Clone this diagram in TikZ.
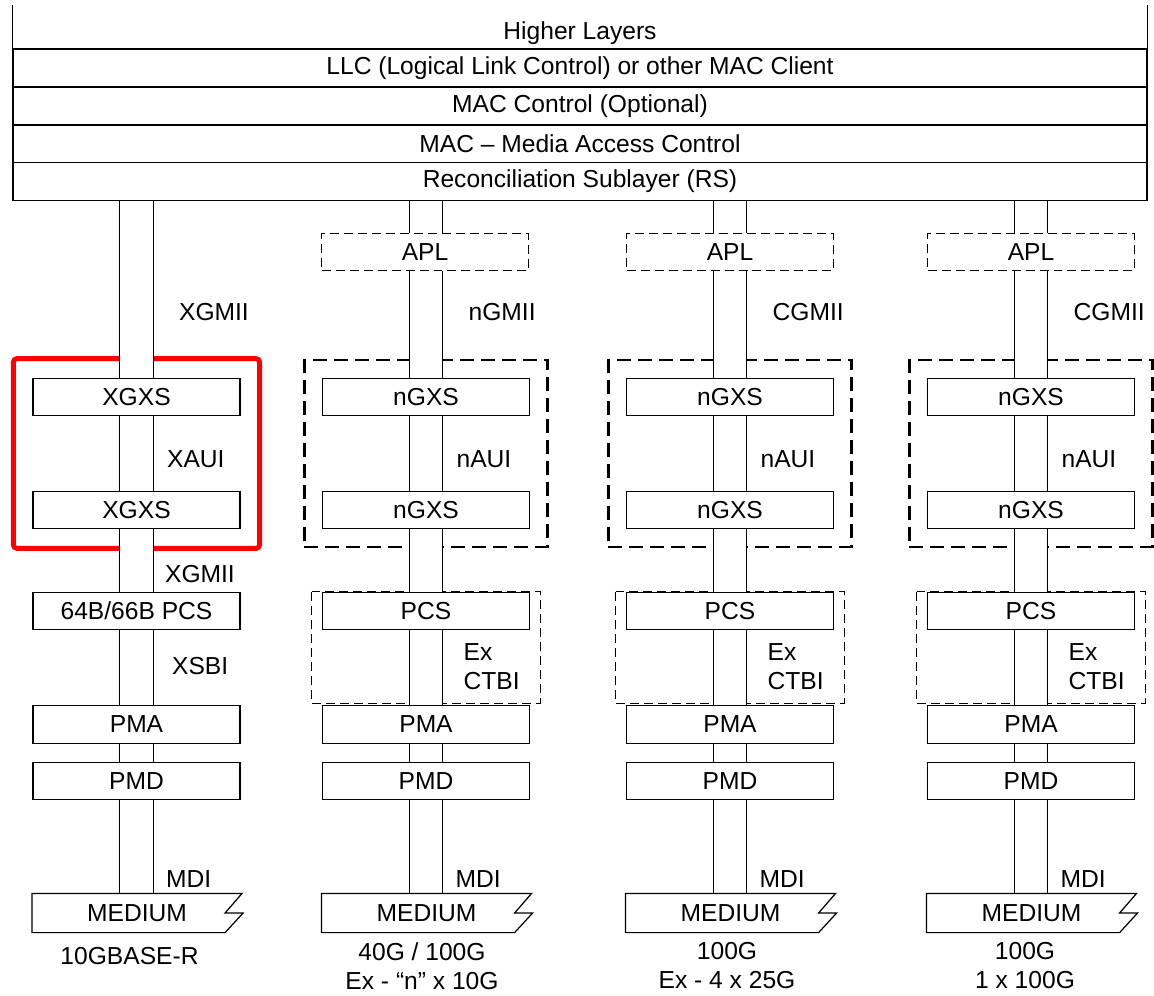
\documentclass[tikz,border=0pt]{standalone}
\usepackage{fontspec}
\setmainfont{Liberation Sans}
\usetikzlibrary{calc,fit,backgrounds}

\begin{document}
\begin{tikzpicture}[x=0.02cm, y=-0.02cm, line width=0.7pt, font=\fontsize{14}{16.8}\selectfont,
    layer/.style={draw, rectangle, fill=white, minimum width=22.68cm, minimum height=0.76cm, inner sep=0pt},
    sublayer/.style={draw, rectangle, fill=white, minimum width=4.14cm, minimum height=0.75cm, inner sep=0pt},
    apl/.style={sublayer, dash pattern=on 0.18cm off 0.1cm, line width=0.6pt},
    medium/.style={rectangle, minimum width=4.18cm, minimum height=0.76cm, inner sep=0pt},
    iface/.style={anchor=west, inner sep=0pt, align=left, font=\fontsize{14}{16.5}\selectfont},
    caption/.style={align=center, inner sep=0pt, font=\fontsize{14}{16.5}\selectfont},
    shaft/.style={double, double distance=0.655cm},
    xgroup/.style={draw, dash pattern=on 0.28cm off 0.14cm, line width=1.4pt, inner sep=0.35cm},
    subgroup/.style={draw, dash pattern=on 0.18cm off 0.1cm, line width=0.6pt}]
    \useasboundingbox (0, 0) rectangle (1154, 995);
    % Upper layers (shared)
    \node[inner sep=0pt] (hl) at (580, 33) {Higher Layers};
    \node[layer] (llc) at (580, 68) {LLC (Logical Link Control) or other MAC Client};
    \node[layer] (macc) at (580, 106) {MAC Control (Optional)};
    \node[layer] (mac) at (580, 144) {MAC – Media Access Control};
    \node[layer] (rs) at (580, 181.5) {Reconciliation Sublayer (RS)};
    \draw (llc.north west) -- ++(0, -43);
    \draw (llc.north east) -- ++(0, -43);
    % Column 1: 10GBASE-R
    \node[sublayer] (xgxs_c1a) at (136.5, 397) {XGXS};
    \node[sublayer] (xgxs_c1b) at (136.5, 510) {XGXS};
    \node[sublayer] (pcs_c1) at (136.5, 611) {64B/66B PCS};
    \node[sublayer] (pma_c1) at (136.5, 724.5) {PMA};
    \node[sublayer] (pmd_c1) at (136.5, 781) {PMD};
    \node[medium] (med_c1) at (137, 913) {MEDIUM};
    \node[iface] (gmii_c1) at (178.5, 312) {XGMII};
    \node[iface] (aui_c1) at (166.5, 459) {XAUI};
    \node[iface] (xgmii_c1) at (164.5, 574) {XGMII};
    \node[iface] (xsbi_c1) at (171.5, 666) {XSBI};
    \node[iface] (mdi_c1) at (165.5, 879) {MDI};
    \node[caption] (cap_c1) at (129.5, 956) {10GBASE-R};
    % Column 2: 40G / 100G, n x 10G
    \node[apl] (apl_c2) at (425, 252) {APL};
    \node[sublayer] (gxs_c2a) at (426, 397) {nGXS};
    \node[sublayer] (gxs_c2b) at (426, 510) {nGXS};
    \node[sublayer] (pcs_c2) at (426, 611) {PCS};
    \node[sublayer] (pma_c2) at (426, 724.5) {PMA};
    \node[sublayer] (pmd_c2) at (426, 781) {PMD};
    \node[medium] (med_c2) at (426.5, 913) {MEDIUM};
    \node[iface] (gmii_c2) at (468, 312) {nGMII};
    \node[iface] (aui_c2) at (456, 459) {nAUI};
    \node[iface] (ctbi_c2) at (463, 666.5) {Ex\\CTBI};
    \node[iface] (mdi_c2) at (455, 879) {MDI};
    \node[caption] (cap_c2) at (422, 966) {40G / 100G\\Ex - “n” x 10G};
    % Column 3: 100G, 4 x 25G
    \node[apl] (apl_c3) at (730, 252) {APL};
    \node[sublayer] (gxs_c3a) at (730, 397) {nGXS};
    \node[sublayer] (gxs_c3b) at (730, 510) {nGXS};
    \node[sublayer] (pcs_c3) at (730, 611) {PCS};
    \node[sublayer] (pma_c3) at (730, 724.5) {PMA};
    \node[sublayer] (pmd_c3) at (730, 781) {PMD};
    \node[medium] (med_c3) at (730.5, 913) {MEDIUM};
    \node[iface] (gmii_c3) at (772, 312) {CGMII};
    \node[iface] (aui_c3) at (760, 459) {nAUI};
    \node[iface] (ctbi_c3) at (767, 666.5) {Ex\\CTBI};
    \node[iface] (mdi_c3) at (759, 879) {MDI};
    \node[caption] (cap_c3) at (727, 966) {100G\\Ex - 4 x 25G};
    % Column 4: 100G, 1 x 100G
    \node[apl] (apl_c4) at (1031, 252) {APL};
    \node[sublayer] (gxs_c4a) at (1031, 397) {nGXS};
    \node[sublayer] (gxs_c4b) at (1031, 510) {nGXS};
    \node[sublayer] (pcs_c4) at (1031, 611) {PCS};
    \node[sublayer] (pma_c4) at (1031, 724.5) {PMA};
    \node[sublayer] (pmd_c4) at (1031, 781) {PMD};
    \node[medium] (med_c4) at (1031.5, 913) {MEDIUM};
    \node[iface] (gmii_c4) at (1073, 312) {CGMII};
    \node[iface] (aui_c4) at (1061, 459) {nAUI};
    \node[iface] (ctbi_c4) at (1068, 666.5) {Ex\\CTBI};
    \node[iface] (mdi_c4) at (1060, 879) {MDI};
    \node[caption] (cap_c4) at (1025, 966) {100G\\1 x 100G};
    % Medium outlines
    \draw (med_c1.north west) -- (med_c1.north east) -- ($(med_c1.east)+(-17,0)$) -- ($(med_c1.east)+(1,0)$) -- ($(med_c1.south east)+(-17,0)$) -- (med_c1.south west) -- cycle;
    \draw (med_c2.north west) -- (med_c2.north east) -- ($(med_c2.east)+(-17,0)$) -- ($(med_c2.east)+(1,0)$) -- ($(med_c2.south east)+(-17,0)$) -- (med_c2.south west) -- cycle;
    \draw (med_c3.north west) -- (med_c3.north east) -- ($(med_c3.east)+(-17,0)$) -- ($(med_c3.east)+(1,0)$) -- ($(med_c3.south east)+(-17,0)$) -- (med_c3.south west) -- cycle;
    \draw (med_c4.north west) -- (med_c4.north east) -- ($(med_c4.east)+(-17,0)$) -- ($(med_c4.east)+(1,0)$) -- ($(med_c4.south east)+(-17,0)$) -- (med_c4.south west) -- cycle;
    \begin{scope}[on background layer]
        % Groupings
        \node[draw=red, line width=2.8pt, rounded corners=2pt, inner sep=0.38cm, fit=(xgxs_c1a)(xgxs_c1b)] (grp_c1) {};
        \node[xgroup, fit=(gxs_c2a)(gxs_c2b)] (grp_c2) {};
        \node[xgroup, fit=(gxs_c3a)(gxs_c3b)] (grp_c3) {};
        \node[xgroup, fit=(gxs_c4a)(gxs_c4b)] (grp_c4) {};
        \draw[subgroup] ($(pcs_c2.north west)+(-10,0)$) rectangle ($(pcs_c2.south east)+(10,73)$);
        \draw[subgroup] ($(pcs_c3.north west)+(-10,0)$) rectangle ($(pcs_c3.south east)+(10,73)$);
        \draw[subgroup] ($(pcs_c4.north west)+(-10,0)$) rectangle ($(pcs_c4.south east)+(10,73)$);
        % Interfaces
        \draw[shaft] (rs.south -| xgxs_c1a) -- (xgxs_c1a);
        \draw[shaft] (xgxs_c1a) -- (xgxs_c1b);
        \draw[shaft] (xgxs_c1b) -- (pcs_c1);
        \draw[shaft] (pcs_c1) -- (pma_c1);
        \draw[shaft] (pma_c1) -- (pmd_c1);
        \draw[shaft] (pmd_c1) -- (med_c1.north -| pmd_c1);
        \draw[shaft] (rs.south -| gxs_c2a) -- (apl_c2.north -| gxs_c2a);
        \draw[shaft] (apl_c2.south -| gxs_c2a) -- (gxs_c2a);
        \draw[shaft] (gxs_c2a) -- (gxs_c2b);
        \draw[shaft] (gxs_c2b) -- (pcs_c2);
        \draw[shaft] (pcs_c2) -- (pma_c2);
        \draw[shaft] (pma_c2) -- (pmd_c2);
        \draw[shaft] (pmd_c2) -- (med_c2.north -| pmd_c2);
        \draw[shaft] (rs.south -| gxs_c3a) -- (apl_c3);
        \draw[shaft] (apl_c3) -- (gxs_c3a);
        \draw[shaft] (gxs_c3a) -- (gxs_c3b);
        \draw[shaft] (gxs_c3b) -- (pcs_c3);
        \draw[shaft] (pcs_c3) -- (pma_c3);
        \draw[shaft] (pma_c3) -- (pmd_c3);
        \draw[shaft] (pmd_c3) -- (med_c3.north -| pmd_c3);
        \draw[shaft] (rs.south -| gxs_c4a) -- (apl_c4);
        \draw[shaft] (apl_c4) -- (gxs_c4a);
        \draw[shaft] (gxs_c4a) -- (gxs_c4b);
        \draw[shaft] (gxs_c4b) -- (pcs_c4);
        \draw[shaft] (pcs_c4) -- (pma_c4);
        \draw[shaft] (pma_c4) -- (pmd_c4);
        \draw[shaft] (pmd_c4) -- (med_c4.north -| pmd_c4);
    \end{scope}
\end{tikzpicture}
\end{document}
